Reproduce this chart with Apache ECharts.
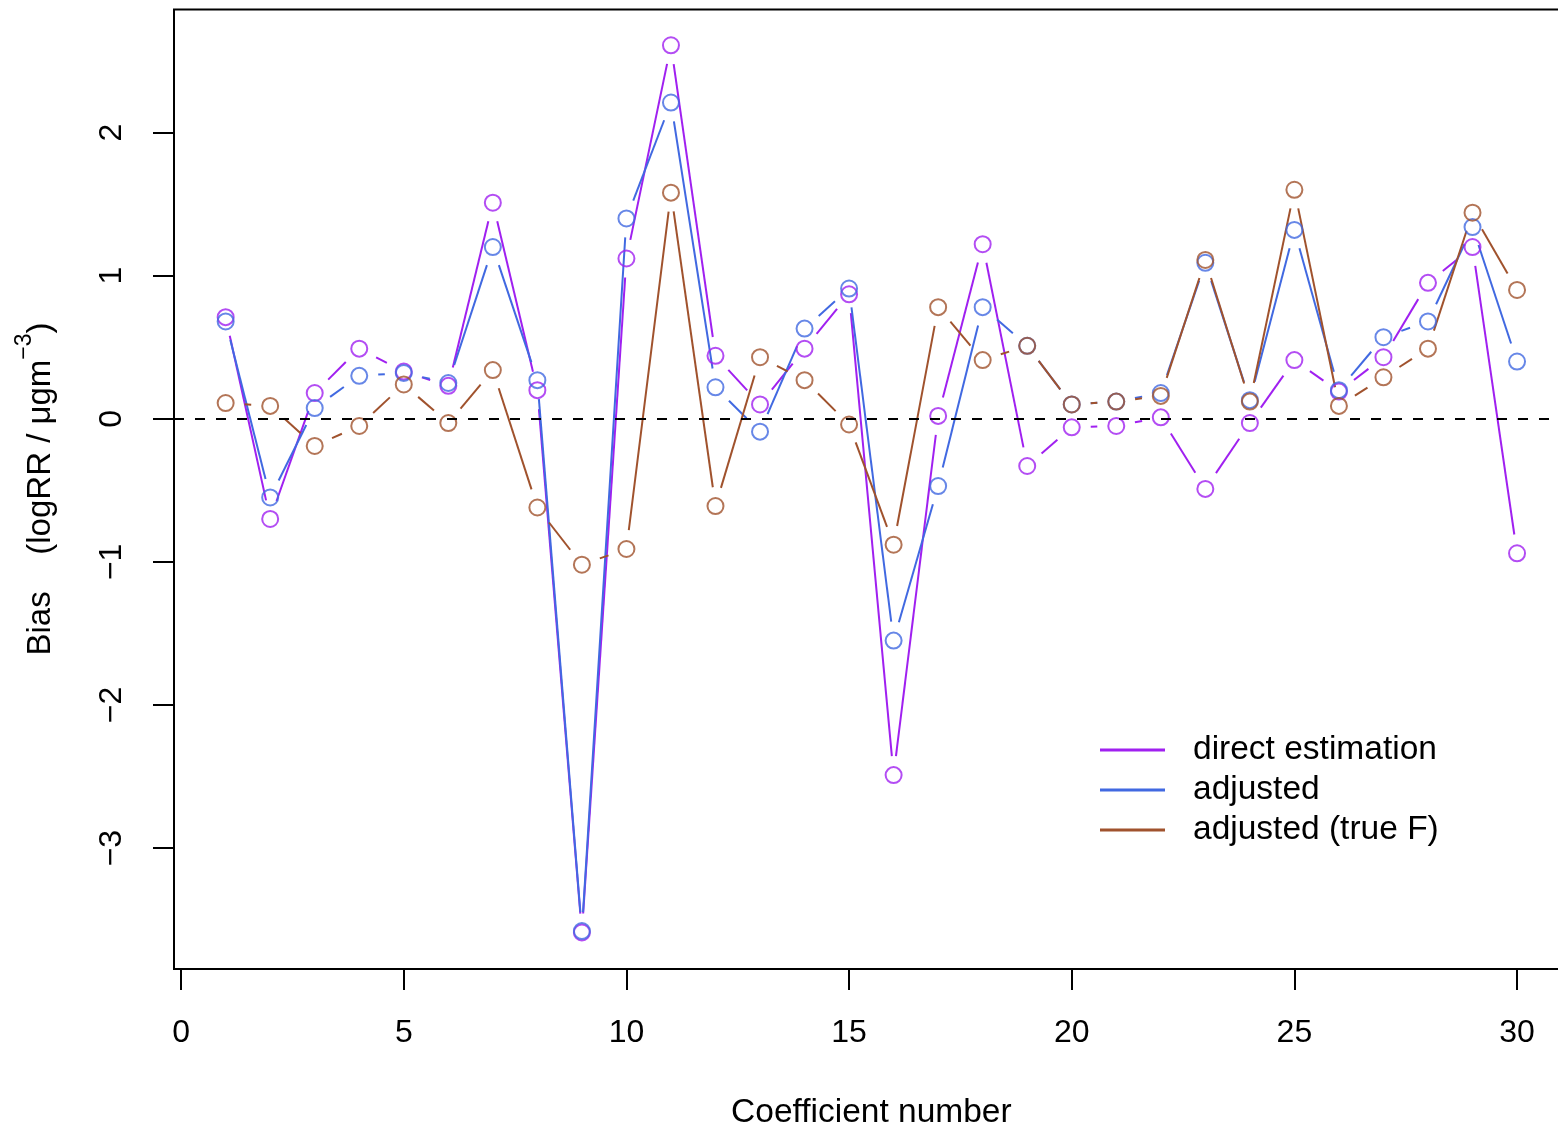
<!DOCTYPE html>
<html>
<head>
<meta charset="utf-8">
<title>Bias by coefficient</title>
<script src="https://cdn.jsdelivr.net/npm/echarts@6/dist/echarts.min.js"></script>
<style>
  html, body { margin: 0; padding: 0; background: #fff; }
  #chart { width: 1558px; height: 1129px; }
</style>
</head>
<body>
<div id="chart"></div>
<script>
// values
const coef = [1, 2, 3, 4, 5, 6, 7, 8, 9, 10, 11, 12, 13, 14, 15, 16, 17, 18, 19, 20, 21, 22, 23, 24, 25, 26, 27, 28, 29, 30];
const direct = [0.71, -0.70, 0.18, 0.49, 0.33, 0.23, 1.51, 0.20, -3.59, 1.12, 2.61, 0.44, 0.10, 0.49, 0.87, -2.49, 0.02, 1.22, -0.33, -0.06, -0.05, 0.01, -0.49, -0.03, 0.41, 0.19, 0.43, 0.95, 1.20, -0.94];
const adjusted = [0.68, -0.55, 0.075, 0.30, 0.32, 0.25, 1.20, 0.27, -3.58, 1.40, 2.21, 0.22, -0.09, 0.63, 0.91, -1.55, -0.47, 0.78, 0.51, 0.10, 0.12, 0.18, 1.09, 0.13, 1.32, 0.20, 0.57, 0.68, 1.34, 0.40];
const adjustedTrueF = [0.11, 0.09, -0.19, -0.05, 0.24, -0.03, 0.34, -0.62, -1.02, -0.91, 1.58, -0.61, 0.43, 0.27, -0.04, -0.88, 0.78, 0.41, 0.51, 0.10, 0.12, 0.16, 1.11, 0.12, 1.60, 0.09, 0.29, 0.49, 1.44, 0.90];
const xTicks = [0, 5, 10, 15, 20, 25, 30];
const yTicks = [-3, -2, -1, 0, 1, 2];

const FONT = '"Liberation Sans", Arial, Helvetica, sans-serif';
const GAP = 19; // R type="b" leaves a gap round each point
const LW = 2;

const groups = [
  { name: 'direct estimation', values: direct, color: '#A020F0' },
  { name: 'adjusted', values: adjusted, color: '#4169E1' },
  { name: 'adjusted (true F)', values: adjustedTrueF, color: '#A0522D' }
];

// segment series: line between neighbours, shortened at both ends
function segmentSeries(g) {
  const segs = [];
  for (let i = 0; i < coef.length - 1; i++) {
    segs.push([coef[i], g.values[i], coef[i + 1], g.values[i + 1]]);
  }
  return {
    name: g.name,
    type: 'custom',
    coordinateSystem: 'cartesian2d',
    encode: { x: [0, 2], y: [1, 3] },
    silent: true,
    data: segs,
    renderItem: function (params, api) {
      const p0 = api.coord([api.value(0), api.value(1)]);
      const p1 = api.coord([api.value(2), api.value(3)]);
      const dx = p1[0] - p0[0], dy = p1[1] - p0[1];
      const len = Math.sqrt(dx * dx + dy * dy);
      if (len <= 2 * GAP) return { type: 'group', children: [] };
      const ux = dx / len, uy = dy / len;
      return {
        type: 'line',
        shape: {
          x1: p0[0] + ux * GAP, y1: p0[1] + uy * GAP,
          x2: p1[0] - ux * GAP, y2: p1[1] - uy * GAP
        },
        style: { stroke: g.color, lineWidth: LW, lineCap: 'butt' }
      };
    }
  };
}

function pointSeries(g) {
  return {
    name: g.name,
    type: 'scatter',
    symbol: 'circle',
    symbolSize: 16,
    silent: true,
    itemStyle: { color: 'rgba(0,0,0,0)', borderColor: g.color, borderWidth: LW },
    data: coef.map((c, i) => [c, g.values[i]])
  };
}

const series = [];
groups.forEach(g => {
  series.push(segmentSeries(g));
  series.push(pointSeries(g));
});

// abline(h = 0)
series.push({
  type: 'line',
  data: [],
  silent: true,
  markLine: {
    silent: true,
    symbol: 'none',
    label: { show: false },
    lineStyle: { color: '#000', width: 1.8, type: [10, 11] },
    data: [{ yAxis: 0 }]
  }
});

const chart = echarts.init(document.getElementById('chart'), null, { renderer: 'canvas' });

chart.setOption({
  animation: false,
  backgroundColor: '#fff',
  textStyle: { fontFamily: FONT },
  grid: {
    left: 174,
    top: 9.5,
    width: 1394.7,
    height: 959.5,
    outerBoundsMode: 'none',
    containLabel: false,
    show: true,
    borderColor: '#000',
    borderWidth: 2,
    backgroundColor: 'transparent'
  },
  xAxis: {
    type: 'value',
    min: -0.16,
    max: 31.16,
    splitLine: { show: false },
    axisLine: { show: false, onZero: false },
    axisTick: { show: true, length: 21, customValues: xTicks, lineStyle: { color: '#000', width: 2 } },
    axisLabel: { customValues: xTicks, color: '#000', fontSize: 32, margin: 48, fontFamily: FONT },
    name: 'Coefficient number',
    nameLocation: 'middle',
    nameGap: 127,
    nameTextStyle: { color: '#000', fontSize: 33.5, fontFamily: FONT }
  },
  yAxis: {
    type: 'value',
    min: -3.845,
    max: 2.86,
    splitLine: { show: false },
    axisLine: { show: false, onZero: false },
    axisTick: { show: true, length: 21, customValues: yTicks, lineStyle: { color: '#000', width: 2 } },
    axisLabel: {
      customValues: yTicks,
      rotate: 90,
      color: '#000',
      fontSize: 32,
      margin: 46,
      fontFamily: FONT,
      formatter: v => String(v).replace('-', '\u2212')
    }
  },
  legend: {
    orient: 'vertical',
    left: 1095,
    top: 725,
    itemWidth: 65,
    itemHeight: 3,
    itemGap: 0,
    selectedMode: false,
    data: groups.map(g => ({ name: g.name, icon: 'rect', itemStyle: { color: g.color, borderWidth: 0 } })),
    textStyle: { color: '#000', fontSize: 33.5, lineHeight: 40, padding: [0, 0, 0, 23], fontFamily: FONT }
  },
  graphic: [{
    type: 'text',
    x: 35,
    y: 489,
    rotation: Math.PI / 2,
    style: {
      text: '{a|Bias    (logRR / \u03bcgm}{s|\u22123}{a|)}',
      align: 'center',
      verticalAlign: 'middle',
      rich: {
        a: { fontSize: 33, fontFamily: FONT, fill: '#000', lineHeight: 44, verticalAlign: 'bottom' },
        s: { fontSize: 23, fontFamily: FONT, fill: '#000', lineHeight: 44, verticalAlign: 'top' }
      }
    }
  }],
  series: series
});
</script>
</body>
</html>
